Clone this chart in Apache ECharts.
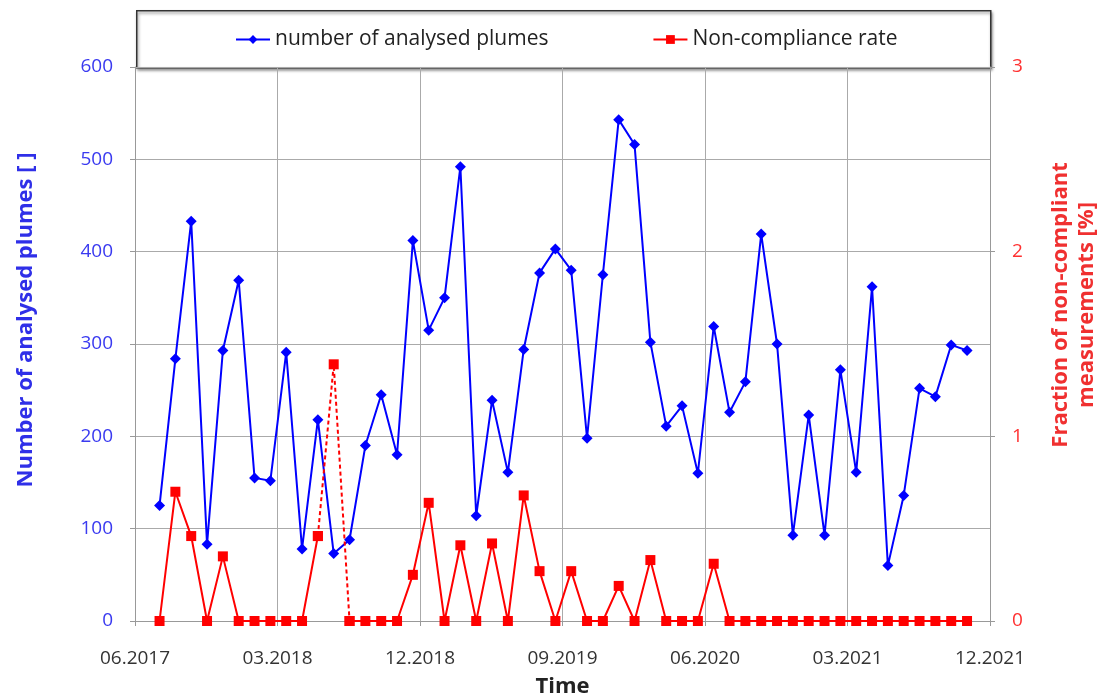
<!DOCTYPE html>
<html>
<head>
<meta charset="utf-8">
<script src="https://cdn.jsdelivr.net/npm/echarts@6/dist/echarts.min.js"></script>
<style>
  html, body { margin: 0; padding: 0; background: #fff; }
  #chart { width: 1106px; height: 700px; }
</style>
</head>
<body>
<div id="chart"></div>
<script>
// tick labels of the time axis, one every 9 months from 06.2017
var tickLabels = ["06.2017", "03.2018", "12.2018", "09.2019", "06.2020", "03.2021", "12.2021"];

// monthly values, first one in 07.2017
var plumes = [
  125, 284, 433, 83, 293, 369, 155, 152, 291, 78, 218, 73,
  88, 190, 245, 180, 412, 315, 350, 492, 114, 239, 161, 294,
  377, 403, 380, 198, 375, 543, 516, 302, 211, 233, 160, 319,
  226, 259, 419, 300, 93, 223, 93, 272, 161, 362, 60, 136,
  252, 243, 299, 293
];
var rate = [
  0, 0.70, 0.46, 0, 0.35, 0, 0, 0, 0, 0, 0.46, 1.39,
  0, 0, 0, 0, 0.25, 0.64, 0, 0.41, 0, 0.42, 0, 0.68,
  0.27, 0, 0.27, 0, 0, 0.19, 0, 0.33, 0, 0, 0, 0.31,
  0, 0, 0, 0, 0, 0, 0, 0, 0, 0, 0, 0,
  0, 0, 0, 0
];
// the rate point drawn with dashed links on both sides
var dashedIndex = 11;

var blue = "#0000ff";
var red = "#ff0000";

// x in months since 06.2017, points sit mid-month
var plumeData = plumes.map(function (v, i) { return [i + 1.55, v]; });
var rateSolid = rate.map(function (v, i) { return [i + 1.55, i === dashedIndex ? null : v]; });
var rateDashed = rate.map(function (v, i) {
  return [i + 1.55, Math.abs(i - dashedIndex) <= 1 ? v : null];
});

var chart = echarts.init(document.getElementById("chart"));
chart.setOption({
  animation: false,
  textStyle: { fontFamily: "Open Sans" },
  graphic: [
    {
      type: "rect",
      left: 136,
      top: 10,
      shape: { width: 854, height: 57 },
      style: {
        fill: "#fff",
        stroke: "#333",
        lineWidth: 1.5,
        shadowBlur: 3,
        shadowOffsetX: 1,
        shadowOffsetY: 2,
        shadowColor: "rgba(0,0,0,0.45)"
      },
      z: -1
    }
  ],
  legend: {
    top: 24,
    left: 230,
    itemGap: 104,
    itemWidth: 34,
    itemHeight: 11,
    textStyle: { fontSize: 21, color: "#222", fontFamily: "Open Sans" },
    data: ["number of analysed plumes", "Non-compliance rate"]
  },
  grid: {
    left: 135,
    right: 116,
    top: 67,
    bottom: 79,
    outerBoundsMode: "none"
  },
  xAxis: {
    type: "value",
    min: 0,
    max: 54,
    interval: 9,
    name: "Time",
    nameLocation: "middle",
    nameGap: 55,
    nameTextStyle: { fontSize: 22, fontWeight: "bold", color: "#222" },
    axisLine: { show: true, lineStyle: { color: "#999", width: 1 } },
    axisTick: { show: true, length: 5, lineStyle: { color: "#999" } },
    axisLabel: {
      fontSize: 19,
      color: "#333",
      margin: 28,
      formatter: function (v) { return tickLabels[Math.round(v / 9)]; }
    },
    splitLine: { show: true, lineStyle: { color: "#aaa", width: 1 } }
  },
  yAxis: [
    {
      type: "value",
      min: 0,
      max: 600,
      interval: 100,
      position: "left",
      name: "Number of analysed plumes [ ]",
      nameLocation: "middle",
      nameRotate: 90,
      nameGap: 98,
      nameTextStyle: {
        fontSize: 22, fontWeight: "bold", color: "#2f2fe8",
        padding: [0, 0, 0, 48]
      },
      axisLine: { show: true, lineStyle: { color: "#999" } },
      axisTick: { show: true, length: 5, lineStyle: { color: "#999" } },
      axisLabel: { fontSize: 19, color: "#3a3af0", margin: 22 },
      splitLine: { show: true, lineStyle: { color: "#aaa", width: 1 } }
    },
    {
      type: "value",
      min: 0,
      max: 3,
      interval: 1,
      position: "right",
      name: "Fraction of non-compliant\nmeasurements [%]",
      nameLocation: "middle",
      nameRotate: 90,
      nameGap: 58,
      nameTextStyle: {
        fontSize: 22, fontWeight: "bold", color: "#f03030", lineHeight: 26,
        padding: [0, 0, 0, 78]
      },
      axisLine: { show: true, lineStyle: { color: "#999" } },
      axisTick: { show: true, length: 5, lineStyle: { color: "#999" } },
      axisLabel: { fontSize: 19, color: "#ff3030", margin: 22 },
      splitLine: { show: false }
    }
  ],
  series: [
    {
      name: "number of analysed plumes",
      type: "line",
      yAxisIndex: 0,
      data: plumeData,
      symbol: "diamond",
      symbolSize: 11,
      lineStyle: { color: blue, width: 2 },
      itemStyle: { color: blue },
      z: 3
    },
    {
      name: "Non-compliance rate",
      type: "line",
      yAxisIndex: 1,
      data: rateSolid,
      symbol: "rect",
      symbolSize: 10,
      connectNulls: false,
      lineStyle: { color: red, width: 2 },
      itemStyle: { color: red },
      z: 4
    },
    {
      name: "rate (dashed)",
      type: "line",
      yAxisIndex: 1,
      data: rateDashed,
      symbol: "rect",
      symbolSize: 10,
      connectNulls: false,
      lineStyle: { color: red, width: 2, type: [4, 3] },
      itemStyle: { color: red },
      z: 4
    }
  ]
});
</script>
</body>
</html>
